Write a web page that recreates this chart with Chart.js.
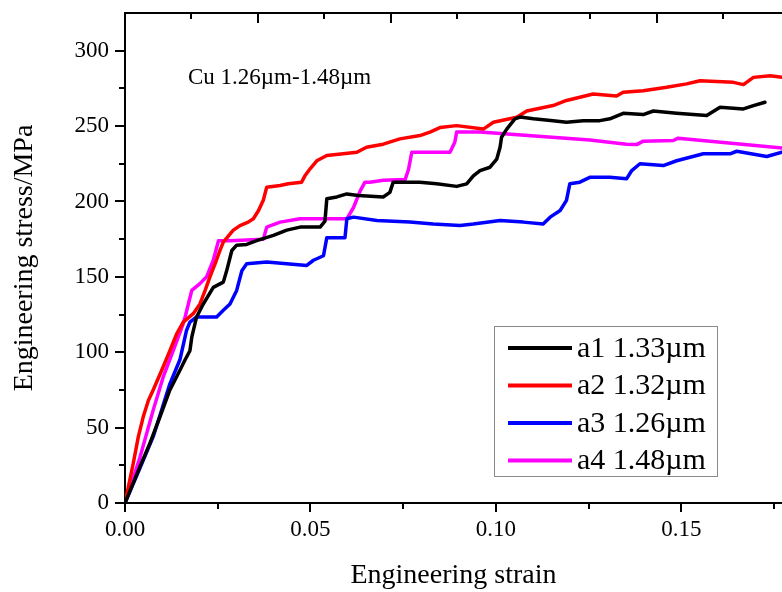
<!DOCTYPE html>
<html>
<head>
<meta charset="utf-8">
<title>Engineering stress-strain, Cu</title>
<script src="https://cdn.jsdelivr.net/npm/chart.js@4.4.1/dist/chart.umd.min.js"></script>
<style>
  html, body { margin: 0; padding: 0; background: #fff; overflow: hidden; }
  #wrap { width: 782px; height: 592px; }
</style>
</head>
<body>
<div id="wrap"><canvas id="stressChart" width="782" height="592"></canvas></div>
<script>
// stress-strain curves, strain (-) vs stress (MPa)
const a1Strain = [0, 0.004, 0.0067, 0.0094, 0.0121, 0.0148, 0.0162, 0.0175, 0.018, 0.0193, 0.0211, 0.0238, 0.0265, 0.0274, 0.0288, 0.0301, 0.0328, 0.0355, 0.04, 0.0436, 0.0472, 0.0526, 0.0539, 0.0544, 0.0571, 0.0598, 0.0629, 0.0696, 0.0714, 0.0723, 0.0768, 0.0795, 0.084, 0.0894, 0.0921, 0.0939, 0.0957, 0.0984, 0.1002, 0.1011, 0.1015, 0.1029, 0.1051, 0.1065, 0.1101, 0.1154, 0.119, 0.1235, 0.128, 0.1307, 0.1343, 0.1397, 0.1424, 0.1487, 0.1568, 0.1604, 0.1667, 0.1694, 0.1725];
const a1Stress = [0, 24, 39.5, 57, 75, 88, 95, 101, 110, 123.4, 132, 143, 146.5, 154, 167.5, 171, 171.5, 174, 177.5, 181, 183, 183, 187, 201.8, 203, 205, 204, 203, 206, 212.8, 212.8, 212.8, 211.7, 210, 211.7, 217, 220.5, 222.7, 228, 236, 242.6, 248, 254.8, 256, 254.8, 253.6, 252.5, 253.6, 253.6, 254.8, 258.5, 257.6, 260, 258.5, 257, 262.5, 261.4, 263.6, 265.8];

const a2Strain = [0, 0.0022, 0.0036, 0.0049, 0.0063, 0.0076, 0.0099, 0.0121, 0.0139, 0.0157, 0.0184, 0.0202, 0.0216, 0.0229, 0.0243, 0.0256, 0.0265, 0.0292, 0.031, 0.0332, 0.0346, 0.036, 0.0373, 0.0382, 0.0418, 0.044, 0.0476, 0.0485, 0.05, 0.0517, 0.0544, 0.0588, 0.0625, 0.0651, 0.0696, 0.0741, 0.0795, 0.0822, 0.0849, 0.0894, 0.0966, 0.0993, 0.1056, 0.1083, 0.1154, 0.119, 0.1262, 0.1325, 0.1343, 0.1397, 0.146, 0.1514, 0.155, 0.164, 0.1667, 0.1694, 0.1739, 0.1771];
const a2Stress = [0, 26, 44, 57, 68, 75, 88, 101, 112, 120, 125.6, 132, 141, 150, 158.7, 167.5, 173, 181, 184, 186.3, 188.5, 194, 201, 209.5, 210.6, 211.7, 212.8, 217, 222, 227, 230.5, 231.6, 232.6, 236, 238, 241.5, 243.7, 246, 249, 250.3, 248, 252.5, 255.8, 260, 263.6, 267, 271.3, 270, 272.4, 273.5, 275.7, 278, 280.1, 279, 277.5, 282.3, 283.4, 282.3];

const a3Strain = [0, 0.004, 0.0076, 0.0121, 0.0148, 0.0166, 0.0175, 0.0193, 0.0247, 0.0265, 0.0283, 0.0301, 0.0315, 0.0328, 0.0382, 0.0436, 0.049, 0.0508, 0.0535, 0.0544, 0.0593, 0.0598, 0.0616, 0.0679, 0.0768, 0.0831, 0.0903, 0.0939, 0.1011, 0.1074, 0.1127, 0.1146, 0.1173, 0.119, 0.1199, 0.1226, 0.1253, 0.1307, 0.1352, 0.1366, 0.1388, 0.1451, 0.1487, 0.1523, 0.1559, 0.1631, 0.1649, 0.173, 0.1771];
const a3Stress = [0, 23, 44, 79, 95, 114.6, 120, 123.4, 123.4, 127.8, 132, 141, 154, 158.7, 159.8, 158.7, 157.6, 161, 164, 176, 176, 188.5, 189.6, 187.4, 186.3, 185, 184, 185, 187.4, 186.3, 185, 189.6, 194, 200.7, 211.7, 212.8, 216, 216, 215, 220.5, 225, 223.8, 227, 229.3, 231.6, 231.6, 233.3, 229.8, 232.7];

const a4Strain = [0, 0.004, 0.0076, 0.0103, 0.013, 0.0157, 0.0162, 0.018, 0.0202, 0.022, 0.0238, 0.0252, 0.0283, 0.0373, 0.0382, 0.0418, 0.0472, 0.0598, 0.0616, 0.0634, 0.0647, 0.066, 0.0696, 0.0755, 0.0764, 0.0773, 0.0876, 0.0889, 0.0894, 0.0957, 0.1253, 0.1352, 0.1379, 0.1397, 0.1478, 0.1491, 0.1771];
const a4Stress = [0, 30, 61.6, 83.6, 101, 119, 123.4, 141, 145.5, 150, 161, 174, 174, 175, 183, 186.3, 188.5, 188.5, 196, 207, 212.8, 212.8, 214, 214.5, 221, 232.6, 232.6, 239.3, 246, 246, 240.8, 238, 237.7, 240, 240.4, 242, 235.5];

const seriesLabels = ["a1 1.33\u00b5m", "a2 1.32\u00b5m", "a3 1.26\u00b5m", "a4 1.48\u00b5m"];
const strainTicks = [0, 0.05, 0.1, 0.15];
const stressTicks = [0, 50, 100, 150, 200, 250, 300];
const noteText = "Cu 1.26\u00b5m-1.48\u00b5m";

const SERIF = "'Liberation Serif', 'Times New Roman', serif";

const toPoints = (xs, ys) => xs.map((x, i) => ({ x, y: ys[i] }));
const isOn = (list, v) => list.some((t) => Math.abs(t - v) < 1e-9);

const makeSet = (label, xs, ys, color) => ({
  label,
  data: toPoints(xs, ys),
  borderColor: color,
  backgroundColor: color,
  borderWidth: 3.5,
  pointRadius: 0,
  tension: 0,
  borderJoinStyle: "round",
  borderCapStyle: "round",
});

// fixed axis boxes, no label overhang padding
const fixBox = (w, h) => (s) => {
  if (w != null) s.width = w;
  if (h != null) s.height = h;
  s.paddingTop = 0;
  s.paddingBottom = 0;
  s.paddingLeft = 0;
  s.paddingRight = 0;
};

// major/minor ticks: outward on bottom and left, inward on top
const frameTicks = {
  id: "frameTicks",
  afterDraw(chart) {
    const { ctx, chartArea: a, scales } = chart;
    ctx.save();
    ctx.strokeStyle = "#000";
    ctx.lineWidth = 2;
    ctx.beginPath();
    scales.x.ticks.forEach((t) => {
      const px = Math.round(scales.x.getPixelForValue(t.value));
      const len = isOn(strainTicks, t.value) ? 9 : 6;
      ctx.moveTo(px, a.bottom);
      ctx.lineTo(px, a.bottom + len);
    });
    scales.y.ticks.forEach((t) => {
      if (t.value >= scales.y.max) return;
      const py = Math.round(scales.y.getPixelForValue(t.value));
      const len = isOn(stressTicks, t.value) ? 10 : 6;
      ctx.moveTo(a.left - len, py);
      ctx.lineTo(a.left, py);
    });
    scales.x2.ticks.forEach((t) => {
      if (t.value === 0) return;
      const px = Math.round(scales.x2.getPixelForValue(t.value));
      const len = t.value % 2 === 0 ? 10 : 6;
      ctx.moveTo(px, a.top);
      ctx.lineTo(px, a.top + len);
    });
    ctx.stroke();
    ctx.restore();
  },
};

// boxed legend inside the plot and the material note
const boxLegend = {
  id: "boxLegend",
  afterDraw(chart) {
    const { ctx } = chart;
    ctx.save();
    ctx.fillStyle = "#fff";
    ctx.fillRect(494, 326, 223, 150);
    ctx.strokeStyle = "#8a8a8a";
    ctx.lineWidth = 1;
    ctx.strokeRect(494.5, 326.5, 223, 150);
    ctx.font = `30px ${SERIF}`;
    ctx.textBaseline = "middle";
    ctx.textAlign = "left";
    chart.data.datasets.forEach((ds, i) => {
      const y = 348 + i * 37.5;
      ctx.strokeStyle = ds.borderColor;
      ctx.lineWidth = 4;
      ctx.beginPath();
      ctx.moveTo(508, y);
      ctx.lineTo(572, y);
      ctx.stroke();
      ctx.fillStyle = "#000";
      ctx.fillText(ds.label, 577, y + 1);
    });
    ctx.font = `23px ${SERIF}`;
    ctx.fillText(noteText, 188, 78);
    ctx.restore();
  },
};

const ctx = document.getElementById("stressChart").getContext("2d");
new Chart(ctx, {
  type: "line",
  data: {
    datasets: [
      makeSet(seriesLabels[0], a1Strain, a1Stress, "#000000"),
      makeSet(seriesLabels[1], a2Strain, a2Stress, "#ff0000"),
      makeSet(seriesLabels[2], a3Strain, a3Stress, "#0000ff"),
      makeSet(seriesLabels[3], a4Strain, a4Stress, "#ff00ff"),
    ],
  },
  options: {
    responsive: false,
    animation: false,
    layout: { padding: 0 },
    plugins: {
      legend: { display: false },
      tooltip: { enabled: false },
    },
    scales: {
      x: {
        type: "linear",
        position: "bottom",
        min: 0,
        max: 0.1771,
        afterFit: fixBox(null, 89),
        grid: { drawOnChartArea: false, drawTicks: false },
        border: { display: true, color: "#000", width: 2 },
        ticks: {
          stepSize: 0.025,
          includeBounds: false,
          autoSkip: false,
          maxRotation: 0,
          padding: 13,
          color: "#000",
          font: { family: SERIF, size: 23 },
          callback: (v) => (isOn(strainTicks, v) ? v.toFixed(2) : ""),
        },
        title: {
          display: true,
          text: "Engineering strain",
          color: "#000",
          font: { family: SERIF, size: 28, lineHeight: 1.2 },
          padding: { top: 1, bottom: 0 },
        },
      },
      x2: {
        type: "linear",
        position: "top",
        min: 0,
        max: 9.88,
        afterFit: fixBox(null, 13),
        grid: { drawOnChartArea: false, drawTicks: false },
        border: { display: true, color: "#000", width: 2 },
        ticks: { display: false, stepSize: 1, includeBounds: false },
      },
      y: {
        type: "linear",
        min: 0,
        max: 325,
        afterFit: fixBox(125, null),
        grid: { drawOnChartArea: false, drawTicks: false },
        border: { display: true, color: "#000", width: 2 },
        ticks: {
          stepSize: 25,
          autoSkip: false,
          padding: 16,
          color: "#000",
          font: { family: SERIF, size: 23 },
          callback: (v) => (isOn(stressTicks, v) ? String(v) : ""),
        },
        title: {
          display: true,
          text: "Engineering stress/MPa",
          color: "#000",
          font: { family: SERIF, size: 28, lineHeight: 1.2 },
          padding: { top: 8, bottom: 0 },
        },
      },
    },
  },
  plugins: [frameTicks, boxLegend],
});
</script>
</body>
</html>
